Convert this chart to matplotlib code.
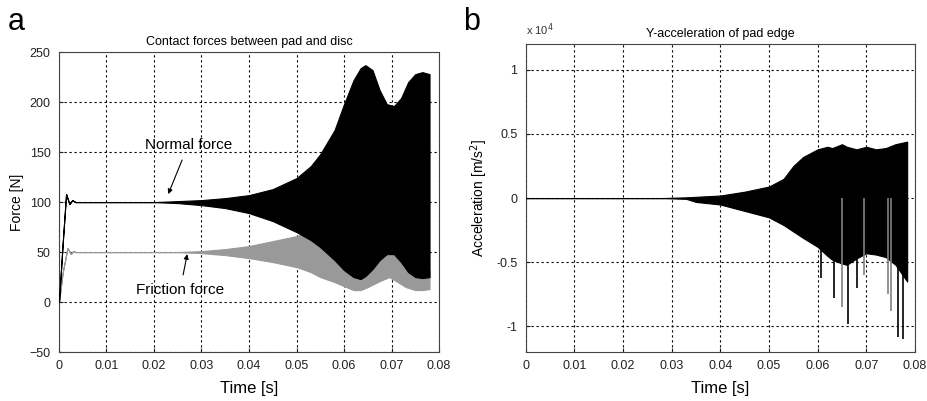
import matplotlib.pyplot as plt
import numpy as np

plt.rcParams['font.family'] = ['Liberation Sans', 'DejaVu Sans']

# ---- panel a: contact forces (envelopes) ----
t_normal = [0, 0.0008, 0.0015, 0.0022, 0.0028, 0.0035, 0.005, 0.02, 0.025, 0.03, 0.035,
            0.04, 0.045, 0.05, 0.053, 0.055, 0.058, 0.06, 0.062, 0.0635, 0.0645,
            0.066, 0.0675, 0.069, 0.0705, 0.072, 0.0735, 0.075, 0.0765, 0.078]
normal_hi = [0, 60, 108, 98, 102, 100, 100, 100, 101, 102, 104,
             107, 113, 124, 136, 148, 172, 198, 222, 234, 237,
             232, 212, 198, 196, 204, 220, 228, 230, 228]
normal_lo = [0, 60, 108, 98, 102, 100, 100, 100, 99, 97, 94,
             89, 81, 70, 62, 55, 42, 32, 25, 23, 26,
             33, 42, 48, 48, 40, 30, 25, 24, 25]

t_friction = [0, 0.0008, 0.0018, 0.0025, 0.003, 0.0035, 0.005, 0.02, 0.025, 0.03, 0.035,
              0.04, 0.045, 0.05, 0.053, 0.055, 0.058, 0.06, 0.062, 0.0635, 0.065,
              0.0675, 0.0695, 0.071, 0.073, 0.075, 0.0765, 0.078]
friction_hi = [0, 30, 54, 48, 51, 50, 50, 50, 50, 51, 53,
               56, 61, 66, 70, 64, 55, 45, 38, 36, 40,
               47, 52, 46, 38, 32, 30, 32]
friction_lo = [0, 30, 54, 48, 51, 50, 50, 50, 50, 49, 47,
               44, 40, 35, 30, 25, 20, 16, 12, 12, 15,
               21, 25, 21, 15, 12, 12, 13]

# ---- panel b: y-acceleration of pad edge [m/s^2] ----
t_acc = [0, 0.01, 0.02, 0.028, 0.033, 0.035, 0.04, 0.045, 0.05, 0.053, 0.055, 0.057,
         0.06, 0.062, 0.063, 0.065, 0.066, 0.068, 0.07, 0.072, 0.074, 0.076, 0.0784]
acc_hi = [0, 0, 0, 0, 60, 100, 200, 500, 900, 1500, 2500, 3200,
          3800, 4000, 3900, 4200, 4000, 3800, 4000, 3800, 3900, 4200, 4400]
acc_lo = [0, 0, 0, 0, -60, -300, -500, -1000, -1500, -2100, -2600, -3100,
          -3800, -4500, -4800, -5100, -5200, -4700, -4300, -4400, -4600, -5200, -6500]
spike_t = [0.0607, 0.0633, 0.0650, 0.0663, 0.0680, 0.0695, 0.0745, 0.0750, 0.0765, 0.0775]
spike_y = [-6200, -7800, -8500, -9800, -7000, -6000, -7500, -8800, -10800, -11000]
spike_c = ['black', 'black', 'gray', 'black', 'black', 'gray', 'gray', 'gray', 'black', 'black']

fig = plt.figure(figsize=(9.27, 4.01), dpi=100)
ax1 = fig.add_axes([0.0636, 0.122, 0.41, 0.748])
ax2 = fig.add_axes([0.567, 0.122, 0.42, 0.768])

grid_kw = dict(color='black', linestyle=(0, (2, 2.5)), linewidth=0.8)

ax1.fill_between(t_friction, friction_lo, friction_hi, facecolor='#999999',
                 edgecolor='#999999', linewidth=0.8, zorder=2)
ax1.fill_between(t_normal, normal_lo, normal_hi, facecolor='black',
                 edgecolor='black', linewidth=0.8, zorder=3)
ax1.set_xlim(0, 0.08)
ax1.set_ylim(-50, 250)
ax1.set_xticks(np.arange(0, 0.081, 0.01))
ax1.set_xticklabels(['0', '0.01', '0.02', '0.03', '0.04', '0.05', '0.06', '0.07', '0.08'])
ax1.set_yticks(np.arange(-50, 251, 50))
ax1.grid(True, **grid_kw)
ax1.set_title('Contact forces between pad and disc', fontsize=9, pad=5)
ax1.set_xlabel('Time [s]', fontsize=12, labelpad=6)
ax1.set_ylabel('Force [N]', fontsize=10, labelpad=4)
ax1.annotate('Normal force', xy=(0.0230, 108), xytext=(0.0272, 157),
             fontsize=11, ha='center', va='center',
             arrowprops=dict(arrowstyle='-|>', color='black', lw=0.8,
                             mutation_scale=7, shrinkA=4, shrinkB=0))
ax1.annotate('Friction force', xy=(0.0270, 48), xytext=(0.0255, 12),
             fontsize=11, ha='center', va='center',
             arrowprops=dict(arrowstyle='-|>', color='black', lw=0.8,
                             mutation_scale=7, shrinkA=4, shrinkB=0))

acc_scale = 1e4
ax2.fill_between(t_acc, np.array(acc_lo) / acc_scale, np.array(acc_hi) / acc_scale,
                 facecolor='black', edgecolor='black', linewidth=0.8, zorder=3)
ax2.vlines(spike_t, 0, np.array(spike_y) / acc_scale, colors=spike_c,
           linewidth=1.2, zorder=3)
ax2.set_xlim(0, 0.08)
ax2.set_ylim(-1.2, 1.2)
ax2.set_xticks(np.arange(0, 0.081, 0.01))
ax2.set_xticklabels(['0', '0.01', '0.02', '0.03', '0.04', '0.05', '0.06', '0.07', '0.08'])
ax2.set_yticks([-1, -0.5, 0, 0.5, 1])
ax2.set_yticklabels(['-1', '-0.5', '0', '0.5', '1'])
ax2.grid(True, **grid_kw)
ax2.set_title('Y-acceleration of pad edge', fontsize=9, pad=5)
ax2.set_xlabel('Time [s]', fontsize=12, labelpad=6)
ax2.set_ylabel('Acceleration [m/s$^2$]', fontsize=10, labelpad=4)
ax2.text(0.0, 1.02, 'x 10$^4$', transform=ax2.transAxes, fontsize=8,
         ha='left', va='bottom', color='#333333')

for ax in (ax1, ax2):
    ax.tick_params(direction='in', length=3, labelsize=9, colors='#222222', pad=6)
    for s in ax.spines.values():
        s.set_linewidth(0.8)
        s.set_color('#444444')

fig.text(0.008, 0.925, 'a', fontsize=22)
fig.text(0.500, 0.925, 'b', fontsize=22)

fig.savefig('out.png', dpi=100)
